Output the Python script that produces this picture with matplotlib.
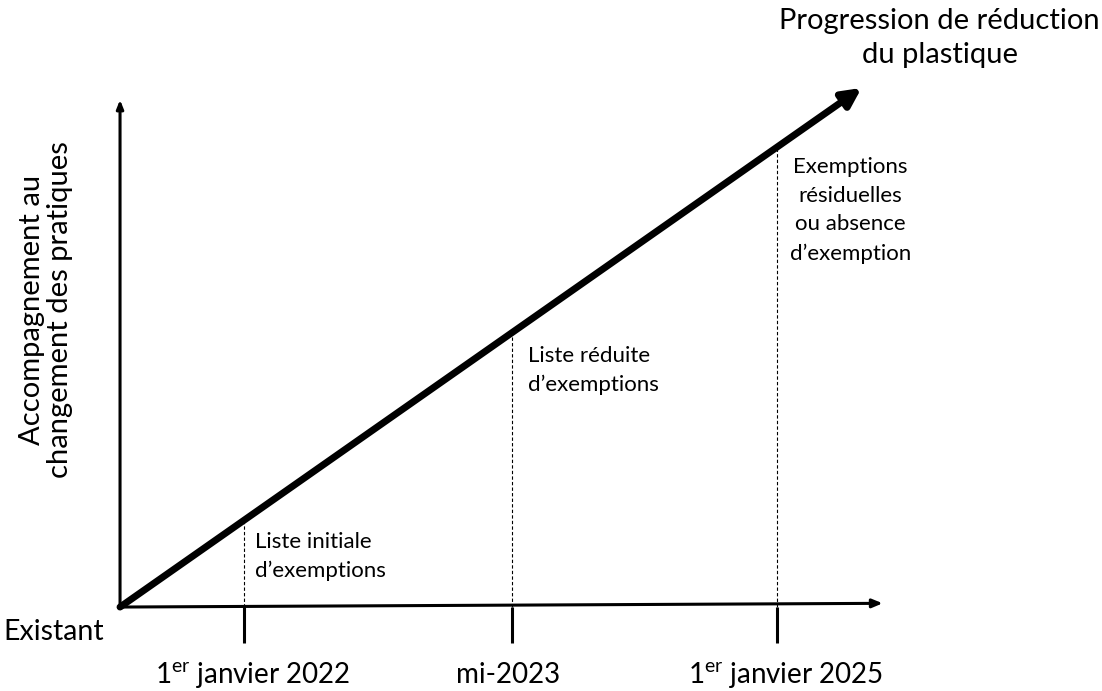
import matplotlib.pyplot as plt

plt.rcParams["font.family"] = ["Lato", "DejaVu Sans"]
plt.rcParams["mathtext.fontset"] = "custom"
plt.rcParams["mathtext.rm"] = "Lato"

# milestone positions along the time axis and their labels
milestones = [1.0, 3.16, 5.3]
tick_labels = ["1$^{\\mathrm{er}}$ janvier 2022", "mi-2023", "1$^{\\mathrm{er}}$ janvier 2025"]
stage_labels = ["Liste initiale\nd\u2019exemptions",
                "Liste réduite\nd\u2019exemptions",
                "Exemptions\nrésiduelles\nou absence\nd\u2019exemption"]
slope = 0.7
progress_end = 5.98
x_axis_end = 6.15
y_axis_end = 4.09


def main():
    fig = plt.figure(figsize=(11.02, 6.91), dpi=100)
    ax = fig.add_axes([0, 0, 1, 1])
    ax.set_xlim(-0.968, 7.919)
    ax.set_ylim(-0.677, 4.895)
    ax.axis("off")

    # axes with arrowheads
    ax.annotate("", xy=(x_axis_end, 0.03), xytext=(0, 0),
                arrowprops=dict(arrowstyle="-|>,head_length=0.6,head_width=0.25",
                                lw=2.2, color="black", shrinkA=0, shrinkB=0))
    ax.annotate("", xy=(0, y_axis_end), xytext=(0, 0),
                arrowprops=dict(arrowstyle="-|>,head_length=0.5,head_width=0.2",
                                lw=2.2, color="black", shrinkA=0, shrinkB=0))

    # progression arrow
    ax.annotate("", xy=(progress_end, slope * progress_end), xytext=(0, 0),
                arrowprops=dict(arrowstyle="-|>,head_length=1.1,head_width=0.55",
                                lw=5, color="black", shrinkA=0, shrinkB=0))

    for x, tick in zip(milestones, tick_labels):
        ax.plot([x, x], [0, slope * x], color="black", lw=0.8,
                linestyle=(0, (3, 2)))
        ax.plot([x, x], [0, -0.29], color="black", lw=2.2, solid_capstyle="butt")
        # labels with a superscript sit a little right of their tick
        shift = 0.07 if "$" in tick else -0.03
        ax.text(x + shift, -0.55, tick, ha="center", va="center", fontsize=20)

    small = dict(va="center", fontsize=16, linespacing=1.55)
    ax.text(milestones[0] + 0.09, 0.41, stage_labels[0], ha="left", **small)
    ax.text(milestones[1] + 0.13, 1.91, stage_labels[1], ha="left", **small)
    ax.text(milestones[2] + 0.59, 3.20, stage_labels[2], ha="center", **small)

    ax.text(6.61, 4.59, "Progression de réduction\ndu plastique",
            ha="center", va="center", fontsize=21, linespacing=1.4)
    ax.text(-0.597, 2.395, "Accompagnement au\nchangement des pratiques",
            ha="center", va="center", rotation=90, fontsize=21, linespacing=1.1)
    ax.text(-0.944, -0.2, "Existant", ha="left", va="center", fontsize=20.5)

    fig.savefig("out.png", dpi=100)


if __name__ == "__main__":
    main()
